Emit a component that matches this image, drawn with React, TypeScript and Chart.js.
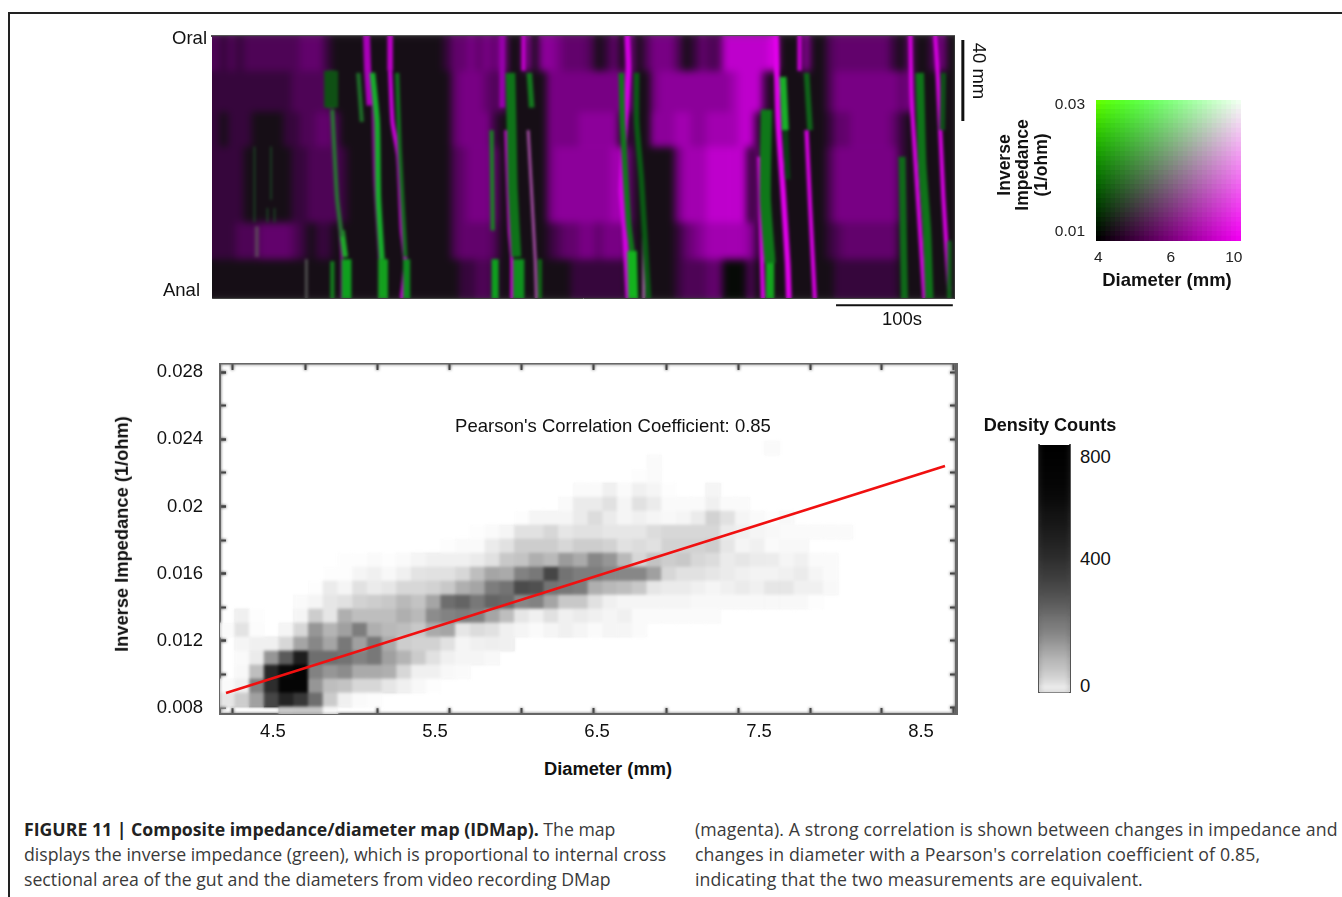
import React, { useEffect, useRef } from "react";
import { Chart, registerables } from "chart.js";

Chart.register(...registerables);

const SANS = '"Liberation Sans", Arial, sans-serif';

// ---------- Spatiotemporal map: time (s) / position along gut (mm) ----------
const MAP_BAND_EDGES = [0, 17, 37, 54, 91, 109, 128];
const BAND_T = [3,2,3,2,3,3,3,3,3,3, 3,4,4,4,2,1,1,1,1,1, 1,1,1,1,1,1,1,1,1,2, 4,4,5,4,5,4,6,1,1,6, 1,6,6,5,4,4,4,3,1,2, 4,1,5,1,3,5,5,5,3,1, 2,4,3,3,8,8,8,8,8,8, 9,1,1,1,6,1,1,3,4,4, 4,4,4,4,4,2,1,4,1,1, 3,5,1];
const BAND_U = [2,2,2,2,2,2,2,2,2,2, 3,3,3,3,3,1,1,1,1,1, 1,1,1,1,1,1,1,1,1,1, 4,5,5,5,4,3,4,1,1,1, 1,1,5,5,5,5,5,5,5,5, 5,5,4,1,1,5,6,6,6,6, 6,6,6,6,6,7,8,8,8,2, 1,1,1,1,1,1,1,3,5,5, 5,5,5,5,5,5,4,5,1,1, 1,1,1];
const BAND_V = [2,1,2,2,2,1,1,1,1,2, 2,3,3,4,4,3,1,1,1,1, 1,1,1,1,1,1,1,1,1,1, 4,5,5,5,5,2,1,1,1,1, 1,1,5,5,5,5,6,6,6,6, 6,1,2,1,1,6,6,6,7,7, 6,6,7,7,7,7,8,8,2,1, 1,1,1,1,1,1,1,2,4,4, 5,5,5,5,5,4,2,1,1,1, 1,1,1];
const BAND_W = [2,2,2,2,1,1,1,1,1,1, 2,2,3,3,3,3,2,1,1,1, 1,1,1,1,1,1,1,1,1,1, 3,4,5,5,5,4,1,1,1,1, 1,1,5,6,6,6,6,6,6,6, 7,7,3,1,1,1,1,1,5,7, 7,7,8,8,8,8,8,2,4,1, 1,1,1,1,1,1,1,3,5,5, 5,5,5,5,5,5,2,1,1,1, 1,1,1];
const BAND_X = [2,2,2,3,3,3,4,4,4,4, 3,2,1,2,2,1,1,1,1,1, 1,1,1,1,1,1,1,1,1,1, 3,4,4,4,4,3,1,1,1,1, 1,1,2,3,4,4,5,5,4,5, 5,5,2,1,1,1,1,1,2,4, 5,6,7,7,7,7,7,6,2,1, 1,1,1,1,1,1,1,2,3,4, 4,4,4,4,4,4,1,1,1,1, 1,1,1];
const BAND_Y = [1,1,1,1,1,1,1,1,1,1, 1,1,1,1,1,1,1,1,1,1, 1,1,1,1,1,1,1,1,1,1, 1,2,2,3,3,2,1,1,1,1, 1,1,1,1,1,2,2,2,2,2, 2,2,1,1,1,1,1,1,2,3, 3,3,4,4,0,0,0,3,1,1, 1,1,1,1,1,1,1,1,2,2, 2,2,2,2,2,2,1,1,1,1, 1,1,1];
const MAP_BANDS = [BAND_T, BAND_U, BAND_V, BAND_W, BAND_X, BAND_Y];
const LEVEL_COLOURS = ["rgb(6,10,6)","rgb(22,14,22)","rgb(54,6,60)","rgb(78,4,86)","rgb(98,2,108)","rgb(120,0,132)","rgb(140,0,154)","rgb(162,0,176)","rgb(190,0,204)","rgb(226,0,236)"];

// [time s, position mm]
const G1_BLOB = [[101,17],[101,35]];
const G1_MID = [[102,36],[106,79],[110,98]];
const G1_LOW = [[110,95],[113,108]];
const G1_BOT = [[114,109],[114,128]];
const G1_SIDE = [[102,110],[102,128]];
const G2 = [[124,18],[127,42]];
const G3 = [[136,18],[140,42],[141,79],[144,109]];
const G3_BOT = [[145,109],[145,128]];
const G4 = [[157,18],[159,54],[164,108]];
const G4_BOT = [[165,109],[165,128]];
const G5 = [[237,46],[238,95]];
const G5_BOT = [[240,109],[240,128]];
const G6 = [[253,18],[254,46],[255,75],[258,108]];
const G6_BOT = [[260,109],[260,128]];
const G7 = [[269,18],[271,35]];
const G7_BOT = [[278,109],[278,128]];
const G8 = [[347,18],[348,42],[353,91],[356,105]];
const G8_BOT = [[356,105],[357,128]];
const G9 = [[360,18],[360,42],[364,70],[370,128]];
const G10 = [[470,36],[469,79],[473,111]];
const G10_BOT = [[473,105],[473,128]];
const G11 = [[484,20],[486,46]];
const G11_TAIL = [[486,46],[488,70]];
const G12 = [[504,18],[507,46]];
const G13 = [[585,59],[586,95],[587,128]];
const G14 = [[600,18],[602,62],[606,95],[608,128]];
const G15 = [[620,18],[619,46]];
const G15_BOT = [[625,100],[625,128]];
const M1 = [[131,0],[132,17],[134,34]];
const M2 = [[151,0],[151,17]];
const M2_LOW = [[151,17],[153,42],[158,59],[161,95],[164,111],[161,128]];
const M3 = [[136,20],[138,70],[142,108],[142,128]];
const M0 = [[108,91],[110,108],[110,128]];
const M4 = [[246,0],[246,35]];
const M5 = [[264,0],[264,17]];
const M6 = [[249,46],[252,95],[254,109],[254,128]];
const M7 = [[268,46],[274,109],[275,128]];
const M8 = [[352,0],[353,17],[347,75],[350,95],[353,128]];
const M9 = [[366,91],[366,128]];
const M10 = [[464,59],[467,128]];
const M11 = [[478,0],[480,42],[484,75],[488,111],[489,128]];
const M12 = [[498,0],[498,17]];
const M13 = [[504,46],[507,83],[511,128]];
const M14 = [[592,0],[593,30],[597,67],[604,128]];
const M15 = [[613,0],[615,17],[620,79],[625,124]];
const S1 = [[36,54],[36,91]];
const S2 = [[50,54],[50,80]];
const S3 = [[47,84],[47,91]];
const S4 = [[53,84],[53,91]];
const S5 = [[38,93],[38,108]];
const S6 = [[80,109],[80,128]];
const SCALE_TIME = [[529,131.5],[628,131.5]];
const SCALE_POS = [[636.5,2],[636.5,41.5]];

// track, colour, width
const MAP_TRACKS: [number[][], string, number][] = [
  [G1_BLOB,"rgb(15,80,20)",10],[G1_BLOB,"rgb(40,225,50)",5],[G1_MID,"rgb(40,115,50)",3],[G1_LOW,"rgb(30,170,40)",4],
  [G1_BOT,"rgb(15,160,30)",7],[G1_SIDE,"rgb(20,125,30)",3],[G2,"rgb(30,110,40)",3],[G3,"rgb(22,175,42)",4],
  [G3_BOT,"rgb(20,160,30)",7],[G4,"rgb(20,110,30)",3],[G4_BOT,"rgb(15,140,30)",5],[G5,"rgb(25,130,35)",3],
  [G5_BOT,"rgb(15,160,30)",5],[G6,"rgb(15,115,25)",7],[G6_BOT,"rgb(15,145,30)",8],[G7,"rgb(20,120,30)",4],
  [G7_BOT,"rgb(15,100,20)",3],[G8,"rgb(15,120,25)",4],[G8_BOT,"rgb(20,180,30)",7],[G9,"rgb(10,90,20)",4],
  [G10,"rgb(15,120,25)",8],[G10_BOT,"rgb(20,165,30)",6],[G11,"rgb(25,175,40)",5],[G11_TAIL,"rgb(10,60,20)",4],
  [G12,"rgb(15,100,25)",4],[G13,"rgb(15,105,25)",5],[G14,"rgb(15,115,25)",6],[G15,"rgb(15,80,25)",4],
  [G15_BOT,"rgb(15,100,25)",3],
  [M1,"rgb(170,0,185)",5],[M2,"rgb(190,0,200)",4],[M2_LOW,"rgb(200,0,215)",3],[M3,"rgb(150,0,160)",2],[M0,"rgb(140,0,150)",2],
  [M4,"rgb(150,0,170)",4],[M5,"rgb(190,0,200)",3],[M6,"rgb(210,0,220)",2],[M7,"rgb(170,80,170)",2],[M8,"rgb(210,0,225)",4],
  [M9,"rgb(170,100,170)",2],[M10,"rgb(220,0,230)",3],[M11,"rgb(225,0,235)",4],[M12,"rgb(200,0,210)",3],[M13,"rgb(215,0,225)",3],
  [M14,"rgb(215,0,225)",3],[M15,"rgb(215,0,225)",3],
  [S1,"rgb(30,80,40)",1],[S2,"rgb(30,80,40)",1],[S3,"rgb(30,80,40)",1],[S4,"rgb(30,80,40)",1],[S5,"rgb(90,60,90)",3],[S6,"rgb(80,80,80)",2],
];

// ---------- Density histogram ----------
const DIAMETER_TICKS = [4.5, 5.5, 6.5, 7.5, 8.5];
const DIAMETER_MARKS = [4.475, 4.926, 5.37, 5.809, 6.259, 6.704, 7.148, 7.593, 8.037, 8.481];
const IMPEDANCE_TICKS = [0.008, 0.012, 0.016, 0.02, 0.024, 0.028];
const IMPEDANCE_MARKS = [0.008, 0.01, 0.012, 0.014, 0.016, 0.018, 0.02, 0.022, 0.024, 0.026, 0.028];
const FIT_LINE = [{ x: 4.21, y: 0.00889 }, { x: 8.648, y: 0.0224 }];
const ROW_00 = [0,0,0,0,75,80,80,5];
const ROW_01 = [22,65,160,390,540,450,275,70,10,3,2];
const ROW_02 = [3,10,220,480,760,760,180,100,85,45,45,22,10,4,1];
const ROW_03 = [0,4,100,510,700,780,220,180,200,140,140,130,45,10,10,4,3];
const ROW_04 = [0,3,15,180,325,570,275,275,265,220,250,160,120,70,30,10,6,6,4];
const ROW_05 = [0,6,10,10,45,150,210,150,250,160,250,140,65,55,55,30,6,10,12,10];
const ROW_06 = [3,27,2,0,6,45,180,120,160,235,130,110,100,75,140,150,22,37,30,10,6,3,6,10,6,3,6,6,3];
const ROW_07 = [0,10,1,0,0,6,65,22,130,100,100,100,130,110,200,220,235,220,150,100,22,10,30,10,15,10,6,10,3,3,3,3,3,3];
const ROW_08 = [0,0,0,0,0,3,6,22,30,55,65,75,110,85,150,275,300,250,300,285,210,220,150,75,75,30,10,6,6,6,6,6,4,4,4,4,4,4,4,4,1];
const ROW_09 = [0,0,0,0,0,0,1,15,6,30,15,22,45,45,55,75,130,150,235,265,370,355,265,250,235,130,110,100,75,22,15,15,10,6,10,15,10,22,22,10,10,4];
const ROW_10 = [0,0,0,0,0,0,0,1,1,6,10,4,10,27,30,30,45,100,150,140,220,250,390,265,235,235,210,210,210,160,45,30,30,22,15,10,8,8,10,15,6,3];
const ROW_11 = [0,0,0,0,0,0,0,0,1,1,3,1,3,6,10,10,10,15,30,75,85,130,110,170,140,210,180,110,45,85,65,75,45,37,15,22,15,14,6,10,3,3];
const ROW_12 = [0,0,0,0,0,0,0,0,0,0,0,0,0,0,0,1,3,3,15,30,65,65,65,45,65,65,55,30,37,30,55,55,55,65,22,6,10,3,4,4];
const ROW_13 = [0,0,0,0,0,0,0,0,0,0,0,0,0,0,0,0,0,1,3,6,30,30,45,22,30,30,22,22,22,37,45,45,45,45,15,10,6,4,3,3,3,3,3];
const ROW_14 = [0,0,0,0,0,0,0,0,0,0,0,0,0,0,0,0,0,0,0,0,1,6,6,6,15,37,15,6,10,6,4,6,15,55,30,6,3,1,4];
const ROW_15 = [0,0,0,0,0,0,0,0,0,0,0,0,0,0,0,0,0,0,0,0,0,0,0,3,15,15,30,6,30,15,3,3,3,10,3,3];
const ROW_16 = [0,0,0,0,0,0,0,0,0,0,0,0,0,0,0,0,0,0,0,0,0,0,0,0,3,3,10,3,10,6,1,0,0,6];
const ROW_17 = [0,0,0,0,0,0,0,0,0,0,0,0,0,0,0,0,0,0,0,0,0,0,0,0,0,0,0,0,1,3];
const ROW_18 = [0,0,0,0,0,0,0,0,0,0,0,0,0,0,0,0,0,0,0,0,0,0,0,0,0,0,0,0,0,3];
const ROW_19 = [0,0,0,0,0,0,0,0,0,0,0,0,0,0,0,0,0,0,0,0,0,0,0,0,0,0,0,0,0,0,0,0,0,0,0,0,0,3];
const DENSITY_ROWS = [ROW_00,ROW_01,ROW_02,ROW_03,ROW_04,ROW_05,ROW_06,ROW_07,ROW_08,ROW_09,ROW_10,ROW_11,ROW_12,ROW_13,ROW_14,ROW_15,ROW_16,ROW_17,ROW_18,ROW_19];
const ROW_FLOOR = 0.00764;
const ROW_FIRST_TOP = 0.00806;
const ROW_STEP = 0.000833;
const COLUMN_COUNT = 50;
const COUNT_STOPS = [0,1,3,4,6,10,15,22,30,37,45,55,65,75,85,100,110,120,130,140,150,160,170,180,190,200,210,220,235,250,265,275,300,325,340,355,370,390,420,450,470,480,510,540,570,700,760,900];
const GREY_STOPS = [255,253,250,248,245,240,235,230,225,220,215,210,205,200,195,190,185,180,175,170,165,160,155,150,145,140,135,130,125,120,115,110,100,90,85,80,75,70,60,55,50,45,40,35,30,10,5,0];

// ---------- Colour bar & colour key ----------
const COLORBAR_LEVELS = [0,25,50,75,100,125,150,175,200,225,250,275,300,325,350,375,400,425,450,475,500,525,550,575,600,625,650,675,700,725,750,775,800,825,850,875,900];
const COLORBAR_MARKS = [100,200,300,400,500];
const KEY_DIAMETERS = [4,4.1,4.3,4.4,4.5,4.6,4.7,4.9,5,5.1,5.3,5.4,5.5,5.7,5.8,6,6.2,6.5,6.7,7,7.2,7.5,7.8,8,8.3,8.6,9,9.3,10,10.3];
const KEY_IMPEDANCE_EDGES = [0.0086,0.00934,0.01008,0.01082,0.01156,0.0123,0.01304,0.01378,0.01452,0.01526,0.016,0.01674,0.01748,0.01822,0.01896,0.0197,0.02044,0.02118,0.02192,0.02266,0.0234,0.02414,0.02488,0.02562,0.02636,0.0271,0.02784,0.02858,0.02932,0.03006,0.0308];
const KEY_X_LABELS = [4, 6, 10];
const KEY_Y_LABELS = [0.01, 0.03];

function greyFor(count: number) {
  let i = 0;
  while (i < COUNT_STOPS.length - 2 && COUNT_STOPS[i + 1] < count) i++;
  const a = COUNT_STOPS[i], b = COUNT_STOPS[i + 1];
  const g = Math.round(GREY_STOPS[i] + ((GREY_STOPS[i + 1] - GREY_STOPS[i]) * (count - a)) / (b - a));
  return `rgb(${g},${g},${g})`;
}
function softenArea(chart: any, radius: number) {
  const { ctx, chartArea: a, canvas } = chart;
  ctx.save();
  ctx.beginPath();
  ctx.rect(a.left, a.top, a.right - a.left, a.bottom - a.top);
  ctx.clip();
  ctx.filter = `blur(${radius}px)`;
  ctx.drawImage(canvas, 0, 0);
  ctx.restore();
}
// Softens the image cells once the last cell dataset (index 0) has been drawn, optionally the tracks after.
function blur(radius: number, finalRadius = 0) {
  return {
    id: "softImage",
    afterDatasetDraw(chart: any, args: any) {
      if (args.index === 0) softenArea(chart, radius);
    },
    afterDatasetsDraw(chart: any) {
      if (finalRadius) softenArea(chart, finalRadius);
    },
  };
}
const noPad = (s: any) => { s.paddingTop = 0; s.paddingBottom = 0; s.paddingLeft = 0; s.paddingRight = 0; };
const hSize = (h: number) => (s: any) => { s.height = h; noPad(s); };
const vSize = (w: number) => (s: any) => { s.width = w; noPad(s); };
const setTicks = (vals: number[]) => (s: any) => { s.ticks = vals.map((value) => ({ value })); };
const noText = { display: false };
function frameAxis(position: string, size: number, color: string, width: number, extra: any = {}) {
  const horizontal = position === "top" || position === "bottom";
  return {
    type: "linear", position, offset: false, z: 1,
    border: { display: true, color, width },
    grid: { drawOnChartArea: false, drawTicks: false },
    ticks: noText,
    afterFit: horizontal ? hSize(size) : vSize(size),
    ...extra,
  };
}
const base = { responsive: false, animation: false as const, events: [] as string[], plugins: { legend: { display: false }, tooltip: { enabled: false } } };

function buildMap(cv: HTMLCanvasElement) {
  const cols = BAND_T.map((_, i) => String(i));
  const bars = MAP_BANDS.map((band, b) => ({
    type: "bar", xAxisID: "col", yAxisID: "y", order: 10, grouped: false,
    barPercentage: 1, categoryPercentage: 1, borderWidth: 0,
    data: band.map(() => [MAP_BAND_EDGES[b], MAP_BAND_EDGES[b + 1]]),
    backgroundColor: band.map((m) => LEVEL_COLOURS[m]),
  }));
  const tracks = MAP_TRACKS.map(([pts, color, w]) => ({
    type: "line", xAxisID: "x", yAxisID: "y", order: 1, pointRadius: 0, tension: 0.2,
    borderColor: color, borderWidth: w * 1.4, borderCapStyle: "butt", data: pts.map(([x, y]) => ({ x, y })),
  }));
  const bars2 = [SCALE_TIME, SCALE_POS].map((pts, i) => ({
    type: "line", xAxisID: "x", yAxisID: "y", order: 0, pointRadius: 0, clip: false,
    borderColor: "#111", borderWidth: i ? 3 : 2, data: pts.map(([x, y]) => ({ x, y })),
  }));
  return new Chart(cv, {
    type: "bar",
    data: { labels: cols, datasets: [...bars, ...tracks, ...bars2] as any },
    options: {
      ...base,
      layout: { padding: { left: 12, top: 16, right: 36, bottom: 22 } },
      scales: {
        col: { type: "category", display: false, offset: true, position: "bottom" },
        x: frameAxis("bottom", 0, "#444", 1, { min: 0, max: 629 }),
        xTop: frameAxis("top", 0, "#555", 2, { min: 0, max: 629 }),
        y: frameAxis("left", 0, "#555", 1, {
          min: 0, max: 128, reverse: true,
          grid: { drawOnChartArea: false, drawTicks: true, tickLength: -3, tickColor: "#333" },
          afterBuildTicks: setTicks([8, 27, 46, 64, 82, 100, 118]),
        }),
        yRight: frameAxis("right", 0, "#333", 1, {
          min: 0, max: 128, reverse: true,
          grid: { drawOnChartArea: false, drawTicks: true, tickLength: -3, tickColor: "#333" },
          afterBuildTicks: setTicks([8, 27, 46, 64, 82, 100, 118]),
        }),
      } as any,
    } as any,
    plugins: [blur(3.5, 1.7)],
  });
}

function buildDensity(cv: HTMLCanvasElement) {
  const bins = Array.from({ length: COLUMN_COUNT }, (_, i) => String(i));
  const bars = DENSITY_ROWS.map((row, r) => {
    const lo = r === 0 ? ROW_FLOOR : ROW_FIRST_TOP + (r - 1) * ROW_STEP;
    const hi = ROW_FIRST_TOP + r * ROW_STEP;
    return {
      type: "bar", xAxisID: "bin", yAxisID: "y", order: 5, grouped: false,
      barPercentage: 1, categoryPercentage: 1, borderWidth: 0,
      data: row.map((c) => (c > 0 ? [lo, hi] : null)),
      backgroundColor: row.map((c) => greyFor(c)),
    };
  });
  const fit = { type: "line", xAxisID: "x", yAxisID: "y", order: 1, pointRadius: 0, borderColor: "#f01010", borderWidth: 2.6, data: FIT_LINE };
  const xr = { min: 4.173, max: 8.716 };
  const yr = { min: 0.00764, max: 0.02848 };
  const mark = { drawOnChartArea: false, drawTicks: true, tickLength: -6, tickColor: "#444", tickWidth: 2 };
  return new Chart(cv, {
    type: "bar",
    data: { labels: bins, datasets: [...bars, fit] as any },
    options: {
      ...base,
      layout: { padding: { left: 0, top: 14, right: 14, bottom: 0 } },
      scales: {
        bin: { type: "category", display: false, offset: true, position: "bottom" },
        xMarks: frameAxis("bottom", 0, "#666", 2, { ...xr, weight: 0, grid: mark, afterBuildTicks: setTicks(DIAMETER_MARKS) }),
        x: {
          type: "linear", position: "bottom", weight: 1, offset: false, ...xr, z: 1, border: { display: false },
          grid: { drawOnChartArea: false, drawTicks: false },
          ticks: { padding: 7, color: "#111", autoSkip: false, maxRotation: 0, font: { family: SANS, size: 18.5 }, callback: (v: number) => v.toFixed(1) },
          afterBuildTicks: setTicks(DIAMETER_TICKS), afterFit: hSize(36),
        },
        xTop: frameAxis("top", 0, "#666", 1.5, { ...xr, grid: mark, afterBuildTicks: setTicks(DIAMETER_MARKS) }),
        y: {
          type: "linear", position: "left", ...yr, z: 1,
          border: { display: true, color: "#666", width: 2 },
          grid: { drawOnChartArea: false, drawTicks: true, tickLength: -6, tickColor: "#444", tickWidth: 2 },
          ticks: { padding: 23, color: "#111", autoSkip: false, font: { family: SANS, size: 18.5 }, callback: (v: number) => String(+v.toFixed(3)) },
          afterBuildTicks: setTicks(IMPEDANCE_TICKS), afterFit: vSize(120),
        },
        yMarks: frameAxis("left", 0, "#666", 0.01, { ...yr, weight: -1, grid: mark, afterBuildTicks: setTicks(IMPEDANCE_MARKS) }),
        yRight: frameAxis("right", 0, "#666", 3, { ...yr, grid: mark, afterBuildTicks: setTicks(IMPEDANCE_MARKS) }),
      } as any,
    } as any,
    plugins: [blur(1.4)],
  });
}

function buildKey(cv: HTMLCanvasElement) {
  const n = KEY_DIAMETERS.length;
  const bars = KEY_IMPEDANCE_EDGES.slice(0, -1).map((lo, r) => {
    const v = r / (n - 1);
    return {
      type: "bar", xAxisID: "x", yAxisID: "y", grouped: false,
      barPercentage: 1, categoryPercentage: 1, borderWidth: 0,
      data: KEY_DIAMETERS.map(() => [lo, KEY_IMPEDANCE_EDGES[r + 1]]),
      backgroundColor: KEY_DIAMETERS.map((_, c) => {
        const u = c / (n - 1);
        const red = Math.min(255, 240 * u + 100 * v * v * v * Math.pow(1 - u, 4));
        return `rgb(${Math.round(red)},${Math.round(255 * v)},${Math.round(240 * u)})`;
      }),
    };
  });
  const tickFont = { family: SANS, size: 15.5 };
  return new Chart(cv, {
    type: "bar",
    data: { labels: KEY_DIAMETERS, datasets: bars as any },
    options: {
      ...base,
      layout: { padding: { left: 0, top: 10, right: 4, bottom: 0 } },
      scales: {
        x: {
          type: "category", offset: true, position: "bottom", border: { display: false },
          grid: { display: false, drawTicks: false },
          ticks: {
            padding: 7, color: "#222", autoSkip: false, maxRotation: 0, font: tickFont,
            callback(this: any, val: number) { const l = Number(this.getLabelForValue(val)); return KEY_X_LABELS.includes(l) ? String(l) : ""; },
          },
          afterFit: hSize(30),
        },
        y: {
          type: "linear", position: "left", min: 0.00858, max: 0.03079, border: { display: false },
          grid: { display: false, drawTicks: false },
          ticks: { padding: 11, color: "#222", autoSkip: false, font: tickFont, callback: (v: number) => v.toFixed(2) },
          afterBuildTicks: setTicks(KEY_Y_LABELS), afterFit: vSize(56),
        },
      } as any,
    } as any,
    plugins: [blur(0.7)],
  });
}

function buildColorbar(cv: HTMLCanvasElement) {
  const levels = COLORBAR_LEVELS.slice(0, -1);
  const bars = levels.map((lo, i) => ({
    type: "bar", grouped: false, barPercentage: 1, categoryPercentage: 1, borderWidth: 0,
    xAxisID: "bin", yAxisID: "y",
    data: [[lo, COLORBAR_LEVELS[i + 1]]],
    backgroundColor: greyFor((lo + COLORBAR_LEVELS[i + 1]) / 2),
  }));
  const mark = { drawOnChartArea: false, drawTicks: true, tickLength: -6, tickColor: "#333", tickWidth: 1 };
  const r = { min: 0, max: 900 };
  return new Chart(cv, {
    type: "bar",
    data: { labels: ["Density Counts"], datasets: bars as any },
    options: {
      ...base,
      layout: { padding: 5 },
      scales: {
        bin: { type: "category", display: false, offset: true, position: "bottom" },
        x: frameAxis("bottom", 0, "#888", 2, { min: 0, max: 1 }),
        xTop: frameAxis("top", 0, "#333", 1, { min: 0, max: 1 }),
        y: frameAxis("left", 0, "#555", 2, { ...r, grid: mark, afterBuildTicks: setTicks(COLORBAR_MARKS) }),
        yRight: frameAxis("right", 0, "#555", 2, { ...r, grid: mark, afterBuildTicks: setTicks(COLORBAR_MARKS) }),
      } as any,
    } as any,
    plugins: [blur(2.5)],
  });
}

function T({ x, y, children, anchor = "left", size = 18.5, bold = false, rotate = 0, color = "#111", family = SANS, spacing = 0 }: any) {
  const tx = anchor === "center" ? "-50%" : anchor === "right" ? "-100%" : "0";
  return (
    <div style={{
      position: "absolute", left: x, top: y, whiteSpace: "nowrap", lineHeight: 1, fontFamily: family, fontSize: size,
      fontWeight: bold ? 700 : 400, color, letterSpacing: spacing,
      transform: `translate(${tx},-50%)${rotate ? ` rotate(${rotate}deg)` : ""}`,
    }}>{children}</div>
  );
}

const box = (l: number, t: number): React.CSSProperties => ({ position: "absolute", left: l, top: t });
const CAP = '"Open Sans", sans-serif';
const CAP_SIZE = 17.7;

export default function App() {
  const mapRef = useRef<HTMLCanvasElement>(null);
  const densRef = useRef<HTMLCanvasElement>(null);
  const keyRef = useRef<HTMLCanvasElement>(null);
  const barRef = useRef<HTMLCanvasElement>(null);
  useEffect(() => {
    const charts = [buildMap(mapRef.current!), buildDensity(densRef.current!), buildKey(keyRef.current!), buildColorbar(barRef.current!)];
    return () => charts.forEach((c) => c.destroy());
  }, []);
  return (
    <div style={{ position: "absolute", left: 0, top: 0, width: 1342, height: 897, overflow: "hidden", background: "#fff" }}>
      <div style={{ position: "absolute", left: 8, top: 12, width: 1334, height: 2, background: "#222" }} />
      <div style={{ position: "absolute", left: 8, top: 12, width: 2, height: 885, background: "#222" }} />
      <canvas ref={mapRef} width={790} height={300} style={box(200, 20)} />
      <canvas ref={densRef} width={870} height={400} style={box(100, 350)} />
      <canvas ref={keyRef} width={205} height={181} style={box(1040, 90)} />
      <canvas ref={barRef} width={41} height={257} style={box(1034, 440)} />

      <T x={207} y={38} anchor="right">Oral</T>
      <T x={200} y={290} anchor="right">Anal</T>
      <T x={902} y={319} anchor="center">100s</T>
      <T x={979} y={71} anchor="center" rotate={90}>40 mm</T>

      <T x={122} y={534} anchor="center" size={18.3} bold rotate={-90}>Inverse Impedance (1/ohm)</T>
      <T x={608} y={769} anchor="center" size={18.3} bold>Diameter (mm)</T>
      <T x={613} y={426} anchor="center">Pearson's Correlation Coefficient: 0.85</T>

      <T x={1005} y={165} anchor="center" size={17.5} bold rotate={-90}>Inverse</T>
      <T x={1023} y={165} anchor="center" size={17.5} bold rotate={-90}>Impedance</T>
      <T x={1042} y={165} anchor="center" size={17.5} bold rotate={-90}>(1/ohm)</T>
      <T x={1167} y={280} anchor="center" bold>Diameter (mm)</T>

      <T x={1050} y={425} anchor="center" size={18.1} bold>Density Counts</T>
      <T x={1080} y={457}>800</T>
      <T x={1080} y={559}>400</T>
      <T x={1080} y={686}>0</T>

      <T x={24} y={830} size={CAP_SIZE} family={CAP} color="#3a3a3a"><b style={{ color: "#222" }}>FIGURE 11 | Composite impedance/diameter map (IDMap).</b> The map</T>
      <T x={24} y={855} size={CAP_SIZE} family={CAP} color="#3a3a3a">displays the inverse impedance (green), which is proportional to internal cross</T>
      <T x={24} y={880} size={CAP_SIZE} family={CAP} color="#3a3a3a">sectional area of the gut and the diameters from video recording DMap</T>
      <T x={695} y={830} size={CAP_SIZE} family={CAP} color="#3a3a3a" spacing={0.13}>(magenta). A strong correlation is shown between changes in impedance and</T>
      <T x={695} y={855} size={CAP_SIZE} family={CAP} color="#3a3a3a" spacing={0.13}>changes in diameter with a Pearson's correlation coefficient of 0.85,</T>
      <T x={695} y={880} size={CAP_SIZE} family={CAP} color="#3a3a3a" spacing={0.13}>indicating that the two measurements are equivalent.</T>
    </div>
  );
}
